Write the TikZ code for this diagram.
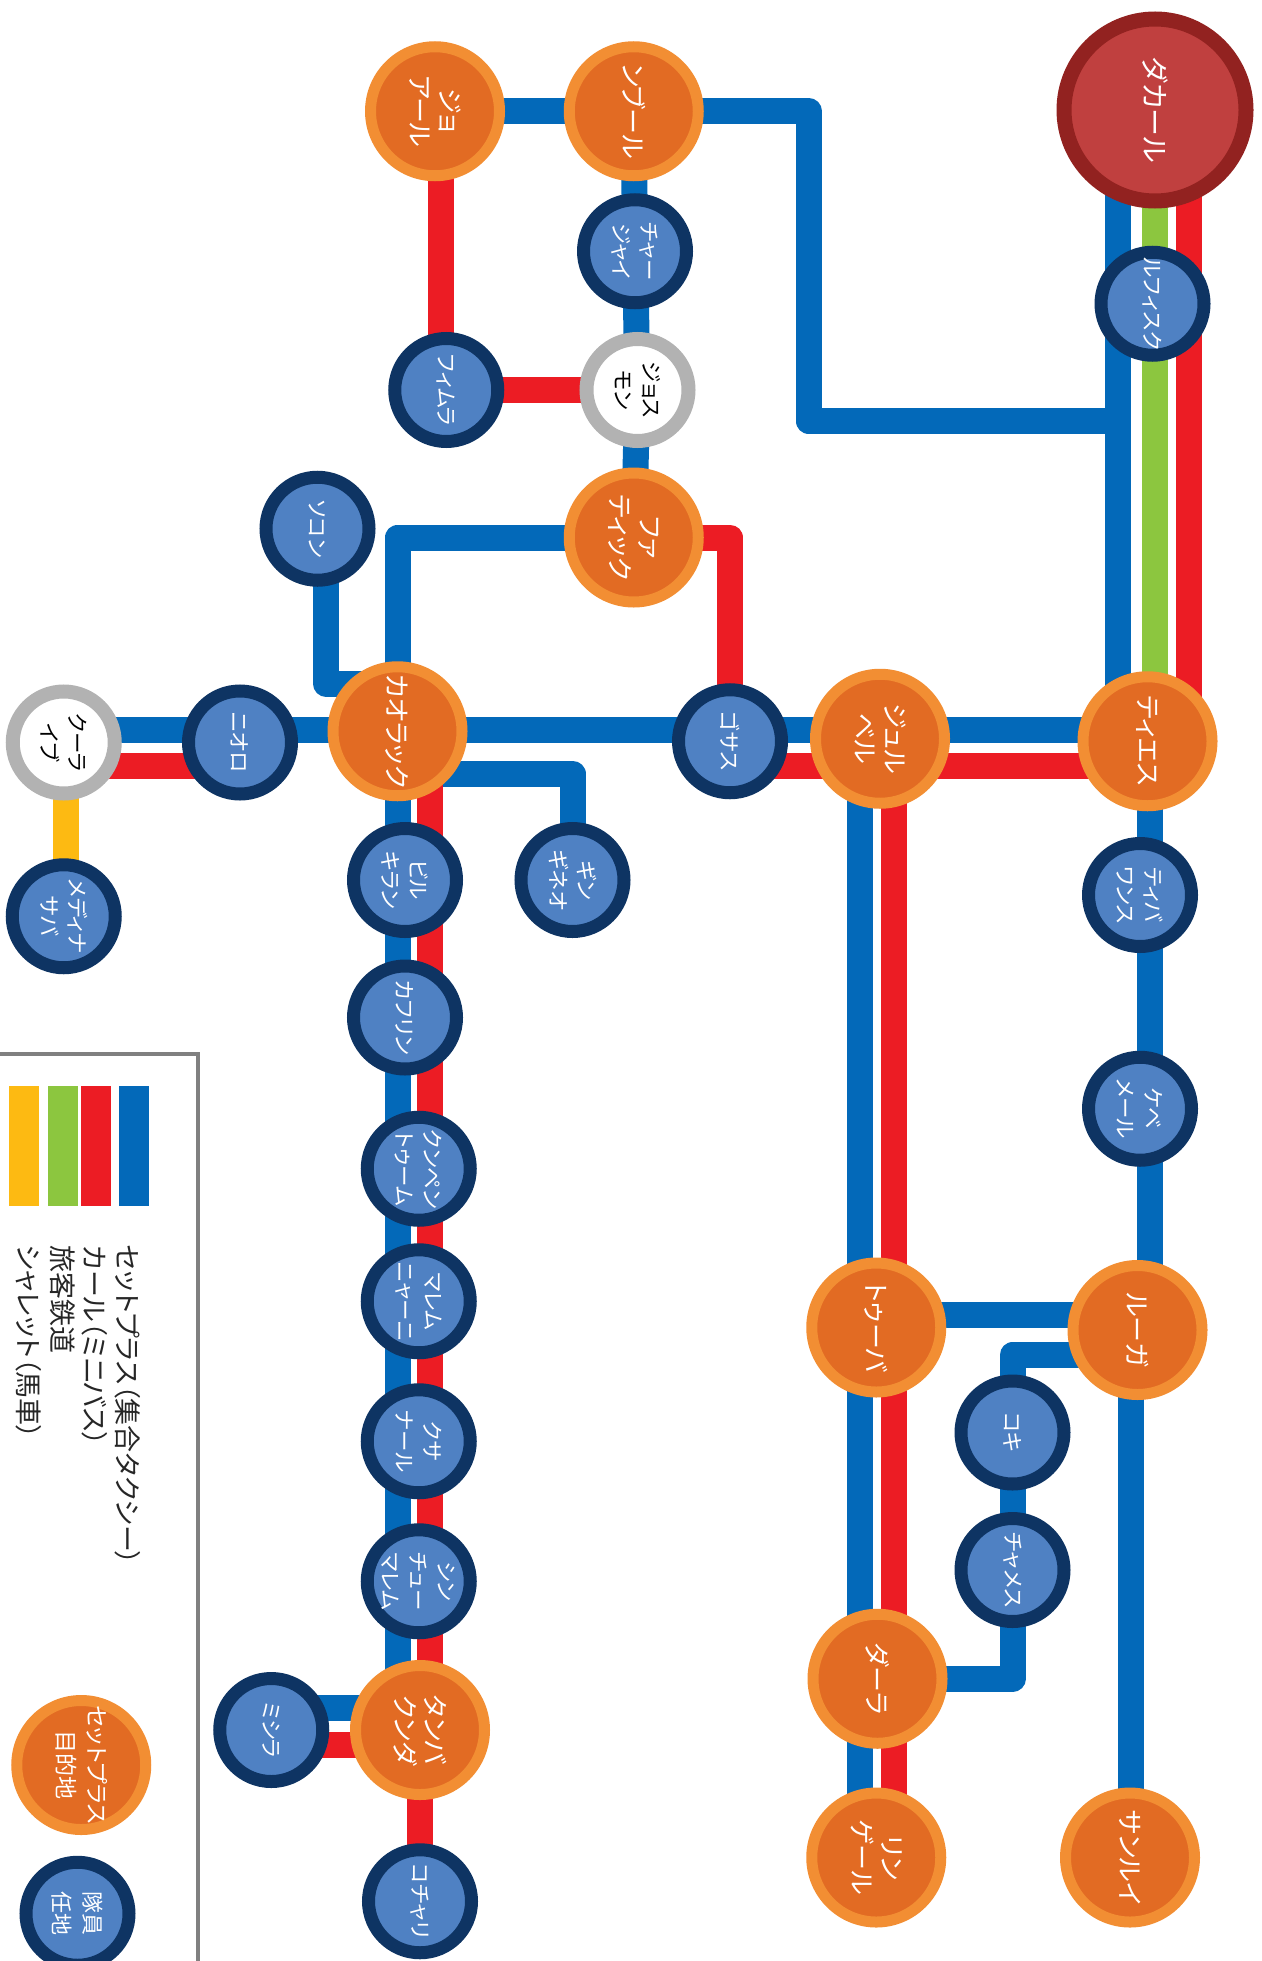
\documentclass[tikz,border=0pt]{standalone}
\usepackage{fontspec}
\setmainfont[RawFeature=+palt]{Noto Sans CJK JP}
\usetikzlibrary{backgrounds}

\definecolor{lineblue}{HTML}{0369B9}
\definecolor{linered}{HTML}{EC1C24}
\definecolor{linegreen}{HTML}{8CC63F}
\definecolor{lineyellow}{HTML}{FDBA12}
\definecolor{destfill}{HTML}{E26B23}
\definecolor{destring}{HTML}{F28E33}
\definecolor{postfill}{HTML}{4F81C3}
\definecolor{postring}{HTML}{0E3463}
\definecolor{capfill}{HTML}{C0403F}
\definecolor{capring}{HTML}{922220}

\begin{document}
\begin{tikzpicture}[x=1.25pt,y=-1.25pt,
	every node/.style={circle,draw,inner sep=0pt,rotate=-90,align=center},
	dest/.style={fill=destfill,draw=destring,line width=11pt,minimum size=129pt,text=white,font=\fontsize{26}{30}\selectfont},
	post/.style={fill=postfill,draw=postring,line width=13pt,minimum size=103pt,text=white,font=\fontsize{21.5}{28}\selectfont},
	town/.style={fill=white,draw=black!30,line width=14pt,minimum size=102pt,text=black,font=\fontsize{21.5}{28}\selectfont},
	capital/.style={fill=capfill,draw=capring,line width=15pt,minimum size=182pt,text=white,font=\fontsize{28}{30}\selectfont},
	swatch/.style={rectangle,draw=none,minimum width=120pt,minimum height=30pt},
	note/.style={rectangle,draw=none,anchor=west,text=black!85,font=\fontsize{27}{30}\selectfont},
	track/.style={line width=26pt,line join=round},
	bline/.style={track,color=lineblue},
	rline/.style={track,color=linered}]

\useasboundingbox (0,0) rectangle (1008.8,1568.8);
\clip (0,0) rectangle (1008.8,1568.8);

\node[capital] (dkr) at (924,88) {ダカール};
\node[post] (rfq) at (922,243) {ルフィスク};
\node[dest] (ths) at (918,593) {ティエス};
\node[post] (tvn) at (912,716) {ティバ\\ワンス};
\node[post] (kbm) at (912,887) {ケベ\\メール};
\node[dest] (lga) at (910,1064) {ルーガ};
\node[dest] (stl) at (904,1486) {サンルイ};
\node[dest] (jlb) at (704,591) {ジュル\\ベル};
\node[dest] (tba) at (701,1062) {トゥーバ};
\node[dest] (dhr) at (702,1343) {ダーラ};
\node[dest] (lgr) at (701,1486) {リン\\ゲール};
\node[post] (kki) at (810,1146) {コキ};
\node[post] (chm) at (810,1256) {チャメス};
\node[post] (gss) at (584,593) {ゴサス};
\node[dest] (klk) at (318,585) {カオラック};
\node[post] (nor) at (192,594) {ニオロ};
\node[town] (kwl) at (51,594) {クーラ\\イブ};
\node[post] (mds) at (51,733) {メディナ\\サバ};
\node[post] (skn) at (254,423) {ソコン};
\node[post] (ggn) at (458,704) {ギン\\ギネオ};
\node[post] (bkl) at (324,704) {ビル\\キラン};
\node[post] (kfr) at (324,814) {カフリン};
\node[post] (kpt) at (335,935) {クンペン\\トゥーム};
\node[post] (mln) at (335,1041) {マレム\\ニャーニ};
\node[post] (ksn) at (335,1153) {クサ\\ナール};
\node[post] (scm) at (335,1265) {シン\\チュー\\マレム};
\node[dest] (tmb) at (336,1384) {タンバ\\クンダ};
\node[post] (msr) at (217,1384) {ミシラ};
\node[post] (kcr) at (336,1521) {コチャリ};
\node[dest] (jal) at (348,89) {ジョ\\アール};
\node[dest] (mbr) at (507,89) {ンブール};
\node[post] (chj) at (508,201) {チャー\\ジャイ};
\node[post] (fml) at (357,312) {フィムラ};
\node[town] (jsm) at (510,312) {ジョス\\モン};
\node[dest] (ftk) at (507,430) {ファ\\ティック};

% rails of the parallel tracks
\coordinate (xa) at (894,0);
\coordinate (xb) at (924,0);
\coordinate (xc) at (951,0);
\coordinate (xd) at (318,0);
\coordinate (xe) at (344,0);
\coordinate (xf) at (688,0);
\coordinate (xg) at (715,0);
\coordinate (xh) at (920,0);
\coordinate (xi) at (905,0);
\coordinate (xj) at (261,0);
\coordinate (xk) at (53,0);
\coordinate (xl) at (353,0);
\coordinate (ya) at (0,584);
\coordinate (yb) at (0,613);
\coordinate (yc) at (0,1366);
\coordinate (yd) at (0,1396);
\coordinate (ye) at (0,1052);
\coordinate (yf) at (0,1084);
\coordinate (yg) at (0,547);
\coordinate (yh) at (0,619);
\coordinate (a) at (647,337);

\begin{scope}[on background layer]
\draw[bline] (xa |- dkr) to (xa |- ths);
\draw[track,color=linegreen] (xb |- dkr) to (xb |- ths);
\draw[rline] (xc |- dkr) to (xc |- ths);
\draw[bline] (mbr.center) -| (a) -- (xa |- a);

\foreach \x/\y in {jal/mbr,mbr/chj,chj/jsm,jsm/ftk}
	\draw[bline] (\x.center) to (\y.center);
\foreach \x/\y in {fml/jsm}
	\draw[rline] (\x.center) to (\y.center);
\draw[rline] (xl |- jal) to (xl |- fml);

\draw[bline] (ftk.center) -| (klk.center);
\draw[rline] (ftk.center) -| (gss.center);
\draw[bline] (xj |- skn) |- (klk |- yg);
\draw[bline] (klk |- yh) -| (ggn.center);

\draw[bline] (kwl |- ya) to (ths |- ya);
\draw[rline] (kwl |- yb) to (nor |- yb);
\draw[rline] (gss |- yb) to (ths |- yb);
\draw[track,color=lineyellow] (xk |- kwl) to (xk |- mds);

\draw[bline] (xd |- klk) to (xd |- tmb);
\draw[rline] (xe |- klk) to (xe |- tmb);
\draw[bline] (msr |- yc) to (tmb |- yc);
\draw[rline] (msr |- yd) to (tmb |- yd);
\draw[rline] (tmb.center) to (kcr.center);

\draw[bline] (xf |- jlb) to (xf |- lgr);
\draw[rline] (xg |- jlb) to (xg |- lgr);

\draw[bline] (xh |- ths) to (xh |- lga);
\draw[bline] (xi |- lga) to (xi |- stl);
\draw[bline] (tba |- ye) to (lga |- ye);
\draw[bline] (lga |- yf) -| (kki.center) -- (chm.center) |- (dhr.center);
\end{scope}

% legend
\draw[line width=4.5pt,color=black!50] (0,843) -- (158.4,843) -- (158.4,1568.8);
\node[swatch,fill=lineblue] (sa) at (107,917) {};
\node[swatch,fill=linered] (sb) at (77,917) {};
\node[swatch,fill=linegreen] (sc) at (50,917) {};
\node[swatch,fill=lineyellow] (sd) at (19,917) {};
\node[note] (na) at (102,996) {セットプラス（集合タクシー）};
\node[note] (nb) at (76,996) {カール（ミニバス）};
\node[note] (nc) at (50,996) {旅客鉄道};
\node[note] (nd) at (23,996) {シャレット（馬車）};
\node[dest,font=\fontsize{23}{31}\selectfont] (le) at (65,1412) {\makebox[0pt]{セットプラス}\\\makebox[0pt]{目的地}};
\node[post,font=\fontsize{22}{31}\selectfont] (lf) at (62,1531) {隊員\\任地};

\end{tikzpicture}
\end{document}
